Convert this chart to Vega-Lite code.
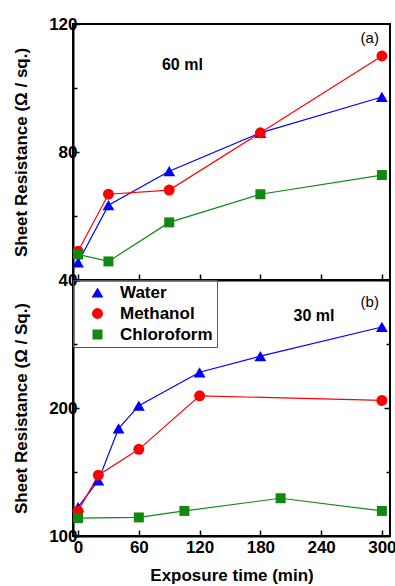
{
  "$schema": "https://vega.github.io/schema/vega-lite/v6.json",
  "background": "white",
  "padding": {"left": 11, "top": 14, "right": 0, "bottom": 0},
  "bounds": "flush",
  "config": {
    "font": "Liberation Sans",
    "view": {"stroke": "black", "strokeWidth": 2},
    "axis": {
      "domainColor": "black", "domainWidth": 2,
      "tickColor": "black", "tickWidth": 1.5,
      "labelFont": "Liberation Sans", "labelFontSize": 17, "labelFontWeight": "bold", "labelColor": "black",
      "titleFont": "Liberation Sans", "titleFontSize": 17, "titleFontWeight": "bold", "titleColor": "black",
      "grid": false
    },
    "legend": {"labelFont": "Liberation Sans"}
  },
  "datasets": {
    "a": [
      {"solvent": "Water", "time": 0, "R": 45.5},
      {"solvent": "Water", "time": 30, "R": 63.4},
      {"solvent": "Water", "time": 90, "R": 74.0},
      {"solvent": "Water", "time": 180, "R": 86.0},
      {"solvent": "Water", "time": 300, "R": 97.2},
      {"solvent": "Methanol", "time": 0, "R": 49.0},
      {"solvent": "Methanol", "time": 30, "R": 66.8},
      {"solvent": "Methanol", "time": 90, "R": 68.1},
      {"solvent": "Methanol", "time": 180, "R": 86.0},
      {"solvent": "Methanol", "time": 300, "R": 110.0},
      {"solvent": "Chloroform", "time": 0, "R": 48.0},
      {"solvent": "Chloroform", "time": 30, "R": 45.8},
      {"solvent": "Chloroform", "time": 90, "R": 58.0},
      {"solvent": "Chloroform", "time": 180, "R": 66.8},
      {"solvent": "Chloroform", "time": 300, "R": 72.8}
    ],
    "b": [
      {"solvent": "Water", "time": 0, "R": 122.5},
      {"solvent": "Water", "time": 20, "R": 143.4},
      {"solvent": "Water", "time": 40, "R": 184},
      {"solvent": "Water", "time": 60, "R": 201.8},
      {"solvent": "Water", "time": 120, "R": 227.9},
      {"solvent": "Water", "time": 180, "R": 240.5},
      {"solvent": "Water", "time": 300, "R": 263.3},
      {"solvent": "Methanol", "time": 0, "R": 119.4},
      {"solvent": "Methanol", "time": 20, "R": 147.5},
      {"solvent": "Methanol", "time": 60, "R": 167.7},
      {"solvent": "Methanol", "time": 120, "R": 209.5},
      {"solvent": "Methanol", "time": 300, "R": 205.9},
      {"solvent": "Chloroform", "time": 0, "R": 114},
      {"solvent": "Chloroform", "time": 60, "R": 114.5},
      {"solvent": "Chloroform", "time": 105, "R": 119.6},
      {"solvent": "Chloroform", "time": 200, "R": 129.5},
      {"solvent": "Chloroform", "time": 300, "R": 119.6}
    ]
  },
  "spacing": 0,
  "resolve": {"scale": {"color": "independent", "shape": "independent", "size": "independent"}, "legend": {"color": "independent", "shape": "independent"}},
  "vconcat": [
    {
      "width": 317,
      "height": 256,
      "layer": [
        {
          "data": {"name": "a"},
          "mark": {"type": "line", "strokeWidth": 1.2},
          "encoding": {
            "x": {"field": "time", "type": "quantitative", "scale": {"domain": [-5, 308], "nice": false, "zero": false},
                  "axis": {"values": [0, 30, 60, 90, 120, 150, 180, 210, 240, 270, 300], "labels": false, "title": null,
                           "minExtent": 0, "maxExtent": 0,
                           "tickSize": {"condition": {"test": "datum.value % 60 === 0", "value": -6}, "value": -4}}},
            "y": {"field": "R", "type": "quantitative", "scale": {"domain": [40, 120], "nice": false, "zero": false},
                  "axis": {"values": [40, 60, 80, 100, 120], "labelExpr": "datum.value % 40 === 0 ? datum.label : ''", "labelPadding": 2,
                           "tickSize": {"condition": {"test": "datum.value % 40 === 0", "value": -6}, "value": -4},
                           "title": "Sheet Resistance (Ω / sq.)", "titlePadding": 18}},
            "color": {"field": "solvent", "type": "nominal", "legend": null,
                      "scale": {"domain": ["Water", "Methanol", "Chloroform"], "range": ["#0000ff", "#ff0000", "#118811"]}}
          }
        },
        {
          "data": {"name": "a"},
          "mark": {"type": "point", "filled": true, "opacity": 1},
          "encoding": {
            "x": {"field": "time", "type": "quantitative"},
            "y": {"field": "R", "type": "quantitative"},
            "color": {"field": "solvent", "type": "nominal", "legend": null,
                      "scale": {"domain": ["Water", "Methanol", "Chloroform"], "range": ["#0000ff", "#ff0000", "#118811"]}},
            "shape": {"field": "solvent", "type": "nominal", "legend": null,
                      "scale": {"domain": ["Water", "Methanol", "Chloroform"], "range": ["triangle-up", "circle", "square"]}},
            "size": {"field": "solvent", "type": "nominal", "legend": null,
                     "scale": {"domain": ["Water", "Methanol", "Chloroform"], "range": [140, 100, 75]}}
          }
        },
        {
          "data": {"values": [{"label": "60 ml"}]},
          "mark": {"type": "text", "fontWeight": "bold", "fontSize": 16, "color": "black"},
          "encoding": {"x": {"datum": 103}, "y": {"datum": 107.3}, "text": {"field": "label"}}
        },
        {
          "data": {"values": [{"label": "(a)"}]},
          "mark": {"type": "text", "fontSize": 15, "color": "black"},
          "encoding": {"x": {"datum": 288}, "y": {"datum": 115.6}, "text": {"field": "label"}}
        }
      ]
    },
    {
      "width": 317,
      "height": 256,
      "resolve": {"axis": {"y": "independent"}},
      "layer": [
        {
          "data": {"name": "b"},
          "mark": {"type": "line", "strokeWidth": 1.2},
          "encoding": {
            "x": {"field": "time", "type": "quantitative", "scale": {"domain": [-5, 308], "nice": false, "zero": false},
                  "axis": {"values": [0, 30, 60, 90, 120, 150, 180, 210, 240, 270, 300], "labelExpr": "datum.value % 60 === 0 ? datum.label : ''",
                           "labelPadding": 9, "title": "Exposure time (min)", "titlePadding": 12,
                           "tickSize": {"condition": {"test": "datum.value % 60 === 0", "value": -6}, "value": -4}}},
            "y": {"field": "R", "type": "quantitative", "scale": {"domain": [100, 300], "nice": false, "zero": false},
                  "axis": {"values": [100, 150, 200, 250, 300], "labelExpr": "datum.value === 100 || datum.value === 200 ? datum.label : ''", "labelPadding": 2,
                           "tickSize": {"condition": {"test": "datum.value % 100 === 0", "value": -6}, "value": -4},
                           "title": "Sheet Resistance (Ω / Sq.)", "titlePadding": 18}},
            "color": {"field": "solvent", "type": "nominal",
                      "scale": {"domain": ["Water", "Methanol", "Chloroform"], "range": ["#0000ff", "#ff0000", "#118811"]},
                      "legend": {"orient": "top-left", "offset": 0, "title": null, "strokeColor": "#555", "padding": 4,
                                 "labelFontSize": 17, "labelFontWeight": "bold", "labelColor": "black", "symbolSize": 70,
                                 "symbolOffset": 12, "labelOffset": 14, "rowPadding": 3, "symbolStrokeWidth": 0}}
          }
        },
        {
          "data": {"name": "b"},
          "mark": {"type": "point", "filled": true, "opacity": 1},
          "encoding": {
            "x": {"field": "time", "type": "quantitative"},
            "y": {"field": "R", "type": "quantitative",
                  "axis": {"orient": "right", "values": [150, 200, 250], "labels": false, "title": null, "domain": false,
                           "tickSize": {"condition": {"test": "datum.value % 100 === 0", "value": -6}, "value": -4}}},
            "color": {"field": "solvent", "type": "nominal",
                      "scale": {"domain": ["Water", "Methanol", "Chloroform"], "range": ["#0000ff", "#ff0000", "#118811"]}},
            "shape": {"field": "solvent", "type": "nominal",
                      "scale": {"domain": ["Water", "Methanol", "Chloroform"], "range": ["triangle-up", "circle", "square"]}},
            "size": {"field": "solvent", "type": "nominal", "legend": null,
                     "scale": {"domain": ["Water", "Methanol", "Chloroform"], "range": [140, 100, 75]}}
          }
        },
        {
          "data": {"values": [{"label": "30 ml"}]},
          "mark": {"type": "text", "fontWeight": "bold", "fontSize": 16, "color": "black"},
          "encoding": {"x": {"datum": 233}, "y": {"datum": 272, "axis": null}, "text": {"field": "label"}}
        },
        {
          "data": {"values": [{"label": "(b)"}]},
          "mark": {"type": "text", "fontSize": 15, "color": "black"},
          "encoding": {"x": {"datum": 288}, "y": {"datum": 283, "axis": null}, "text": {"field": "label"}}
        }
      ]
    }
  ]
}
